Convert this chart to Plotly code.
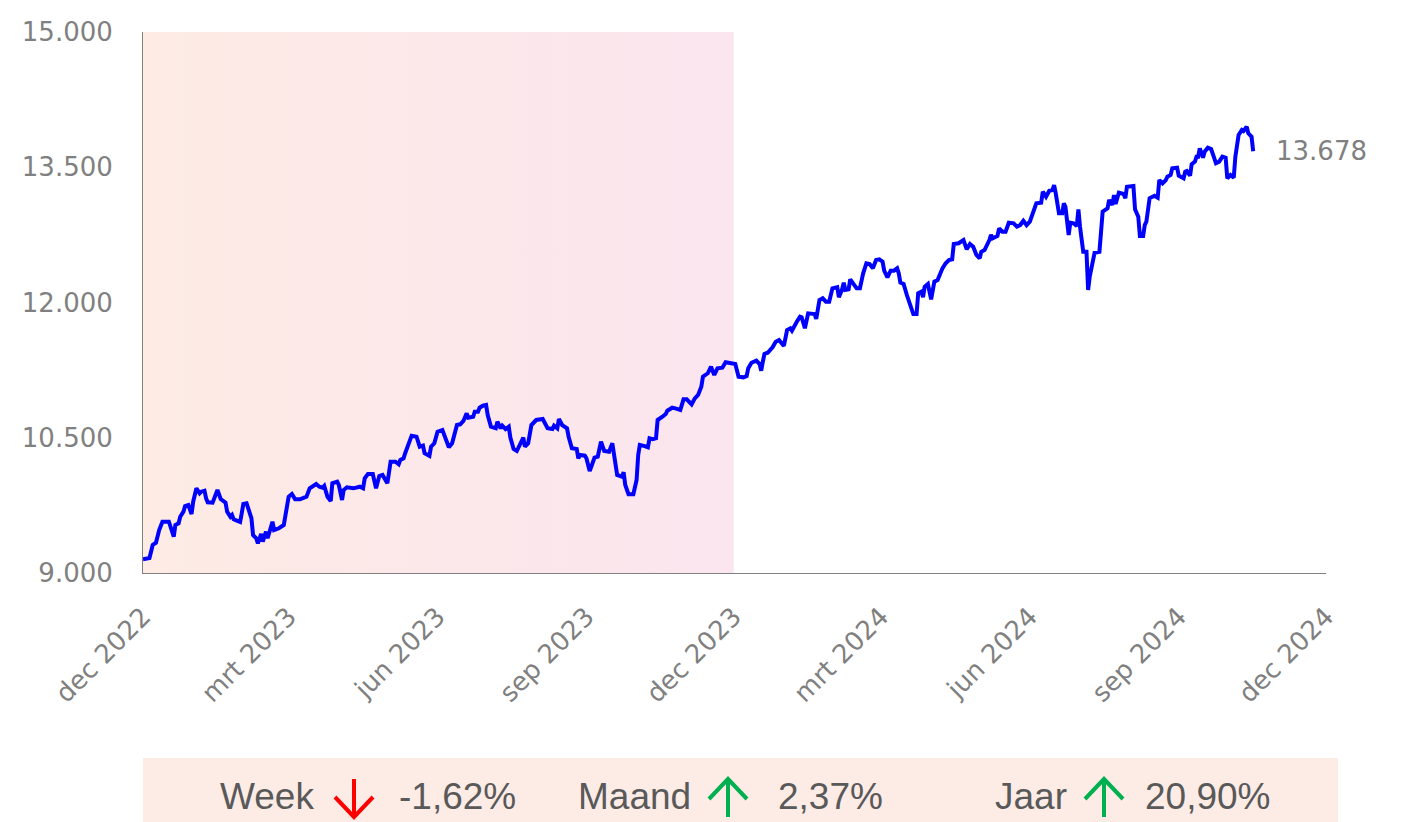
import plotly.graph_objects as go

# ---------------- data ----------------
dates = [
    "2022-12-01","2022-12-05","2022-12-07","2022-12-09","2022-12-11","2022-12-13","2022-12-17","2022-12-20",
    "2022-12-21","2022-12-23","2022-12-24","2022-12-26","2022-12-27","2022-12-29","2022-12-31","2023-01-01",
    "2023-01-03","2023-01-05","2023-01-06","2023-01-08","2023-01-09","2023-01-10","2023-01-13","2023-01-15",
    "2023-01-16","2023-01-18","2023-01-20","2023-01-21","2023-01-22","2023-01-24","2023-01-25","2023-01-26",
    "2023-01-28","2023-01-30","2023-01-31","2023-02-01","2023-02-03","2023-02-05","2023-02-06","2023-02-07",
    "2023-02-09","2023-02-10","2023-02-12","2023-02-13","2023-02-15","2023-02-16","2023-02-19","2023-02-20",
    "2023-02-23","2023-02-26","2023-02-28","2023-03-01","2023-03-03","2023-03-05","2023-03-08","2023-03-10",
    "2023-03-12","2023-03-14","2023-03-16","2023-03-18","2023-03-20","2023-03-22","2023-03-23","2023-03-25",
    "2023-03-27","2023-03-28","2023-03-31","2023-04-01","2023-04-03","2023-04-04","2023-04-06","2023-04-10",
    "2023-04-14","2023-04-16","2023-04-17","2023-04-19","2023-04-22","2023-04-24","2023-04-26","2023-04-28",
    "2023-05-01","2023-05-03","2023-05-06","2023-05-08","2023-05-09","2023-05-11","2023-05-12","2023-05-14",
    "2023-05-16","2023-05-19","2023-05-21","2023-05-23","2023-05-24","2023-05-27","2023-05-28","2023-05-30",
    "2023-06-01","2023-06-04","2023-06-05","2023-06-07","2023-06-08","2023-06-10","2023-06-13","2023-06-15",
    "2023-06-17","2023-06-19","2023-06-20","2023-06-23","2023-06-24","2023-06-26","2023-06-27","2023-06-29",
    "2023-07-01","2023-07-02","2023-07-04","2023-07-07","2023-07-08","2023-07-10","2023-07-11","2023-07-13",
    "2023-07-15","2023-07-16","2023-07-18","2023-07-20","2023-07-22","2023-07-24","2023-07-25","2023-07-27",
    "2023-07-29","2023-08-01","2023-08-05","2023-08-08","2023-08-11","2023-08-12","2023-08-14","2023-08-15",
    "2023-08-17","2023-08-20","2023-08-21","2023-08-23","2023-08-26","2023-08-27","2023-08-28","2023-08-31",
    "2023-09-01","2023-09-03","2023-09-04","2023-09-06","2023-09-08","2023-09-10","2023-09-12","2023-09-15",
    "2023-09-17","2023-09-19","2023-09-20","2023-09-23","2023-09-24","2023-09-25","2023-09-27","2023-09-30",
    "2023-10-02","2023-10-03","2023-10-04","2023-10-07","2023-10-09","2023-10-10","2023-10-12","2023-10-14",
    "2023-10-15","2023-10-18","2023-10-20","2023-10-21","2023-10-24","2023-10-26","2023-10-29","2023-10-31",
    "2023-11-02","2023-11-05","2023-11-07","2023-11-09","2023-11-11","2023-11-12","2023-11-15","2023-11-17",
    "2023-11-19","2023-11-21","2023-11-24","2023-11-26","2023-11-29","2023-12-02","2023-12-04","2023-12-07",
    "2023-12-09","2023-12-10","2023-12-12","2023-12-15","2023-12-17","2023-12-18","2023-12-19","2023-12-20",
    "2023-12-22","2023-12-25","2023-12-27","2023-12-29","2024-01-01","2024-01-03","2024-01-05","2024-01-06",
    "2024-01-09","2024-01-11","2024-01-12","2024-01-14","2024-01-16","2024-01-18","2024-01-20","2024-01-21",
    "2024-01-23","2024-01-25","2024-01-27","2024-01-29","2024-01-31","2024-02-03","2024-02-04","2024-02-06",
    "2024-02-07","2024-02-08","2024-02-10","2024-02-11","2024-02-13","2024-02-15","2024-02-17","2024-02-19",
    "2024-02-21","2024-02-23","2024-02-25","2024-02-27","2024-02-29","2024-03-02","2024-03-03","2024-03-05",
    "2024-03-07","2024-03-09","2024-03-11","2024-03-12","2024-03-13","2024-03-15","2024-03-17","2024-03-19",
    "2024-03-21","2024-03-23","2024-03-24","2024-03-26","2024-03-27","2024-03-28","2024-03-30","2024-04-01",
    "2024-04-03","2024-04-05","2024-04-08","2024-04-10","2024-04-12","2024-04-14","2024-04-15","2024-04-18",
    "2024-04-20","2024-04-21","2024-04-23","2024-04-25","2024-04-27","2024-04-29","2024-05-01","2024-05-02",
    "2024-05-04","2024-05-05","2024-05-07","2024-05-08","2024-05-09","2024-05-12","2024-05-13","2024-05-15",
    "2024-05-17","2024-05-19","2024-05-22","2024-05-24","2024-05-26","2024-05-28","2024-05-30","2024-06-01",
    "2024-06-03","2024-06-05","2024-06-08","2024-06-09","2024-06-11","2024-06-13","2024-06-15","2024-06-16",
    "2024-06-17","2024-06-19","2024-06-21","2024-06-22","2024-06-23","2024-06-25","2024-06-26","2024-06-28",
    "2024-06-30","2024-07-01","2024-07-02","2024-07-04","2024-07-06","2024-07-07","2024-07-08","2024-07-10",
    "2024-07-11","2024-07-14","2024-07-15","2024-07-16","2024-07-19","2024-07-20","2024-07-22","2024-07-23",
    "2024-07-24","2024-07-26","2024-07-29","2024-07-30","2024-07-31","2024-08-04","2024-08-05","2024-08-07",
    "2024-08-08","2024-08-10","2024-08-11","2024-08-12","2024-08-14","2024-08-17","2024-08-19","2024-08-20",
    "2024-08-22","2024-08-24","2024-08-25","2024-08-27","2024-08-28","2024-08-31","2024-09-01","2024-09-04",
    "2024-09-05","2024-09-06","2024-09-08","2024-09-09","2024-09-11","2024-09-12","2024-09-13","2024-09-14",
    "2024-09-16","2024-09-17","2024-09-19","2024-09-21","2024-09-23","2024-09-24","2024-09-26","2024-09-28",
    "2024-09-30","2024-10-01","2024-10-03","2024-10-05","2024-10-06","2024-10-08","2024-10-10","2024-10-11",
    "2024-10-13","2024-10-14","2024-10-16","2024-10-17",
]

values = [
    9152, 9166, 9311, 9336, 9477, 9569, 9569, 9403,
    9532, 9551, 9624, 9680, 9743, 9754, 9654, 9791,
    9939, 9884, 9902, 9913, 9828, 9784, 9780, 9865,
    9921, 9821, 9802, 9780, 9680, 9624, 9643, 9596,
    9580, 9566, 9662, 9765, 9773, 9669, 9607, 9421,
    9385, 9329, 9433, 9347, 9458, 9385, 9569, 9477,
    9496, 9532, 9754, 9846, 9876, 9817, 9817, 9828,
    9846, 9939, 9965, 9987, 9957, 9946, 9965, 9846,
    9799, 9995, 10013, 9976, 9810, 9920, 9950, 9939,
    9957, 9939, 10050, 10098, 10098, 9939, 10076, 10087,
    9995, 10234, 10234, 10206, 10253, 10272, 10328, 10420,
    10523, 10512, 10401, 10412, 10328, 10298, 10401, 10438,
    10567, 10586, 10530, 10420, 10394, 10438, 10641, 10649,
    10686, 10771, 10722, 10733, 10789, 10789, 10833, 10855,
    10863, 10752, 10623, 10605, 10678, 10605, 10634, 10597,
    10623, 10501, 10375, 10353, 10420, 10501, 10401, 10438,
    10641, 10697, 10708, 10605, 10597, 10634, 10605, 10708,
    10641, 10605, 10512, 10383, 10375, 10272, 10309, 10301,
    10272, 10131, 10179, 10279, 10290, 10456, 10353, 10345,
    10438, 10234, 10087, 10068, 10117, 9976, 9873, 9873,
    10031, 10309, 10420, 10408, 10394, 10494, 10483, 10494,
    10697, 10733, 10763, 10800, 10833, 10826, 10808, 10926,
    10926, 10871, 10937, 10974, 11066, 11177, 11215, 11288,
    11196, 11270, 11277, 11337, 11326, 11318, 11177, 11170,
    11185, 11270, 11332, 11355, 11318, 11244, 11343, 11429,
    11443, 11503, 11565, 11584, 11518, 11695, 11714, 11687,
    11787, 11842, 11836, 11714, 11880, 11880, 11872, 11817,
    12028, 12047, 12009, 12009, 12157, 12169, 12058, 12146,
    12220, 12139, 12146, 12257, 12213, 12157, 12157, 12324,
    12435, 12427, 12379, 12471, 12479, 12452, 12353, 12279,
    12353, 12353, 12379, 12324, 12220, 12205, 12083, 11972,
    11872, 11872, 12102, 12120, 12058, 12175, 12205, 12035,
    12231, 12250, 12379, 12435, 12471, 12479, 12649, 12657,
    12675, 12693, 12590, 12649, 12619, 12527, 12490, 12563,
    12582, 12612, 12693, 12749, 12712, 12738, 12823, 12785,
    12785, 12885, 12878, 12841, 12859, 12907, 12859, 12896,
    13007, 13100, 13107, 13229, 13173, 13240, 13248, 13303,
    13211, 12989, 12989, 13100, 13062, 12749, 12885, 12878,
    12848, 13033, 12841, 12563, 12563, 12139, 12286, 12508,
    12552, 12563, 12767, 13007, 13045, 13137, 13081, 13192,
    13092, 13218, 13203, 13156, 13284, 13292, 13033, 12952,
    12738, 12738, 12859, 12896, 13156, 13184, 13162, 13358,
    13322, 13358, 13395, 13414, 13488, 13495, 13406, 13377,
    13451, 13458, 13406, 13533, 13562, 13617, 13617, 13710,
    13606, 13672, 13717, 13702, 13599, 13544, 13562, 13617,
    13606, 13377, 13414, 13384, 13617, 13858, 13913, 13902,
    13950, 13876, 13839, 13678,
]

x_tick_dates = ["2022-12-01", "2023-03-01", "2023-06-01", "2023-09-01", "2023-12-01",
                "2024-03-01", "2024-06-01", "2024-09-01", "2024-12-01"]
x_tick_labels = ["dec 2022", "mrt 2023", "jun 2023", "sep 2023", "dec 2023",
                 "mrt 2024", "jun 2024", "sep 2024", "dec 2024"]
y_tick_values = [9000, 10500, 12000, 13500, 15000]

highlight_period = ["2022-12-01", "2023-12-01"]

periods = ["Week", "Maand", "Jaar"]
changes = [-1.62, 2.37, 20.90]

# ---------------- helpers ----------------
def fmt_int(v):
    return f"{v:,.0f}".replace(",", ".")

def fmt_pct(v):
    return f"{v:.2f}".replace(".", ",") + "%"

OFF = 8                      # the page body margin shifts the figure by 8px
W, H = 1405 - OFF, 822 - OFF
L, T = 143 - OFF, 32 - OFF
PW, PH = 1183, 541
R, B = W - L - PW, H - T - PH

def px(x):                   # page pixel -> paper x
    return (x - OFF - L) / PW

def py(y):                   # page pixel -> paper y
    return (T + PH - (y - OFF)) / PH

TICK_FONT = dict(family="DejaVu Sans, Verdana, sans-serif", size=26, color="#808080")
FOOT_FONT = dict(family="Liberation Sans, Arial, sans-serif", size=37, color="#595959")

fig = go.Figure()

# shaded highlight period (gradient)
fig.add_trace(go.Scatter(
    x=[highlight_period[0], highlight_period[1], highlight_period[1], highlight_period[0], highlight_period[0]],
    y=[y_tick_values[0], y_tick_values[0], y_tick_values[-1], y_tick_values[-1], y_tick_values[0]],
    mode="lines", line=dict(width=0), fill="toself",
    fillgradient=dict(type="horizontal", colorscale=[[0, "#fdebe4"], [1, "#fbe5ef"]]),
    hoverinfo="skip", showlegend=False,
))

fig.add_trace(go.Scatter(
    x=dates, y=values, mode="lines",
    line=dict(color="#0000ff", width=4),
    showlegend=False,
))

# last value label
fig.add_annotation(
    x=dates[-1], y=values[-1], text=fmt_int(values[-1]),
    showarrow=False, xanchor="left", yanchor="middle", xshift=21,
    font=TICK_FONT,
)

# footer bar
shapes = [dict(type="rect", xref="paper", yref="paper",
               x0=px(143), x1=px(1338), y0=py(840), y1=py(758),
               fillcolor="#fdece6", line=dict(width=0), layer="below")]

label_left = [218, 576, 993]
arrow_cx = [354, 728, 1104]
value_left = [397, 776, 1143]
text_y = py(796)
for name, chg, lx, ax, vx in zip(periods, changes, label_left, arrow_cx, value_left):
    fig.add_annotation(x=px(lx), y=text_y, xref="paper", yref="paper", text=name,
                       showarrow=False, xanchor="left", yanchor="middle", font=FOOT_FONT)
    fig.add_annotation(x=px(vx), y=text_y, xref="paper", yref="paper", text=fmt_pct(chg),
                       showarrow=False, xanchor="left", yanchor="middle", font=FOOT_FONT)
    top, bot, arm_w, arm_h = 779, 817, 19, 20
    if chg < 0:
        color = "#ff0000"
        path = (f"M {px(ax)} {py(top)} L {px(ax)} {py(bot)} "
                f"M {px(ax - arm_w)} {py(bot - arm_h)} L {px(ax)} {py(bot)} L {px(ax + arm_w)} {py(bot - arm_h)}")
    else:
        color = "#00b050"
        path = (f"M {px(ax)} {py(bot)} L {px(ax)} {py(top)} "
                f"M {px(ax - arm_w)} {py(top + arm_h)} L {px(ax)} {py(top)} L {px(ax + arm_w)} {py(top + arm_h)}")
    shapes.append(dict(type="path", xref="paper", yref="paper", path=path,
                       line=dict(color=color, width=4)))

fig.update_layout(
    width=W, height=H,
    margin=dict(l=L, r=R, t=T, b=B, autoexpand=False),
    paper_bgcolor="white", plot_bgcolor="white",
    shapes=shapes,
    showlegend=False,
    xaxis=dict(
        type="date", range=[x_tick_dates[0], x_tick_dates[-1]],
        tickvals=x_tick_dates, ticktext=x_tick_labels, tickangle=-45,
        showgrid=False, zeroline=False, showline=True, linecolor="#808080", linewidth=1,
        ticks="", tickfont=TICK_FONT, automargin=False, ticklabelstandoff=17,
    ),
    yaxis=dict(
        range=[y_tick_values[0], y_tick_values[-1]],
        tickvals=y_tick_values, ticktext=[fmt_int(v) for v in y_tick_values],
        showgrid=False, zeroline=False, showline=True, linecolor="#808080", linewidth=1,
        ticks="", tickfont=TICK_FONT, automargin=False, ticklabelstandoff=24,
    ),
)

fig.write_html("out.html")
